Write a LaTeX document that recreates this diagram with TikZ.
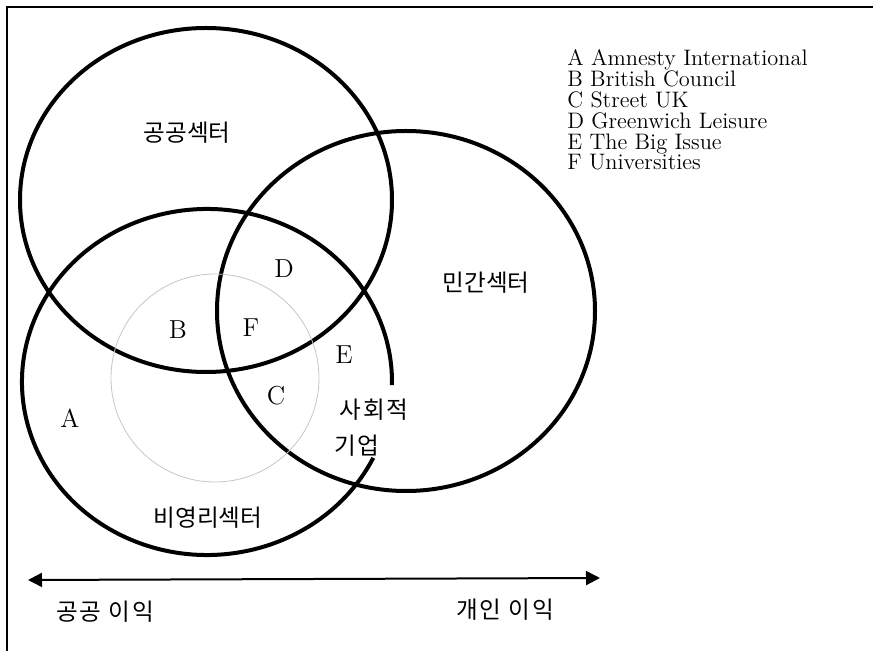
\documentclass[tikz,border=0pt]{standalone}
\usepackage{fontspec}
\newfontfamily\kr{Noto Sans CJK KR}
\newfontfamily\krwide[LetterSpace=8]{Noto Sans CJK KR}
\usepackage{tikz}
\usetikzlibrary{arrows.meta}

\begin{document}
\begin{tikzpicture}[x=0.5pt, y=-0.5pt, >={Triangle[length=7pt,width=7pt]},
		sector/.style={line width=2pt},
		krlabel/.style={font=\kr\fontsize{11.8}{13}\selectfont},
		krwide/.style={font=\krwide\fontsize{11.8}{13}\selectfont},
		letter/.style={font=\fontsize{13}{15}\selectfont}]
		\useasboundingbox (0,0) rectangle (873,651);
		% frame
		\draw[line width=0.7pt] (7,651) -- (7,7) -- (873,7);
		% the three sectors
		\draw[sector] (206,200) ellipse [x radius=186, y radius=172];
		\draw[sector] (406,311) ellipse [x radius=189, y radius=180];
		\draw[sector] (207,382) ++(26:185 and 173) arc[start angle=26, end angle=361, x radius=185, y radius=173];
		% social enterprise zone
		\draw[gray!45, line width=0.4pt] (215,378) circle[radius=104];
		% sector names
		\node[krlabel] (public) at (187,133) {공공섹터};
		\node[krlabel] (private) at (486,283) {민간섹터};
		\node[krlabel] (nonprofit) at (208,518) {비영리섹터};
		\node[krwide] (social) at (374,410) {사회적};
		\node[krwide] (enterprise) at (357,446) {기업};
		% organisations
		\node[letter] (a) at (70,418) {A};
		\node[letter] (b) at (178,330) {B};
		\node[letter] (c) at (276,396) {C};
		\node[letter] (d) at (284,269) {D};
		\node[letter] (e) at (344,355) {E};
		\node[letter] (f) at (251,328) {F};
		% legend
		\foreach \entry [count=\i from 0] in {A Amnesty International, B British Council, C Street UK, D Greenwich Leisure, E The Big Issue, F Universities}
			\node[anchor=base west, inner sep=0pt, font=\fontsize{11.2}{12}\selectfont] (leg\i) at (567,66+20.8*\i) {\entry};
		% public -- private axis
		\coordinate (publicend) at (28,580);
		\coordinate (privateend) at (600,578);
		\draw[<->, line width=1pt] (publicend) -- (privateend);
		\node[krwide] (publicgain) at (105,612) {공공 이익};
		\node[krwide] (privategain) at (505,610) {개인 이익};
	\end{tikzpicture}
\end{document}
